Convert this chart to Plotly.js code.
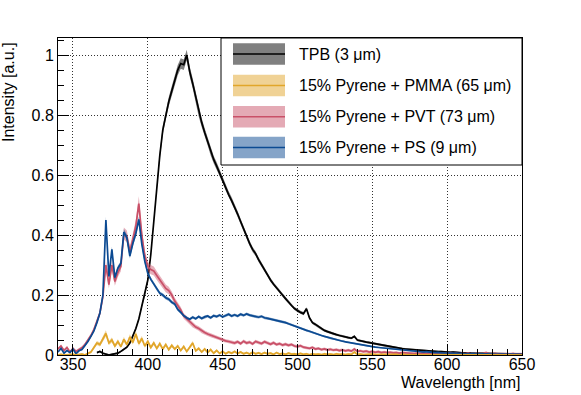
<!DOCTYPE html>
<html>
<head>
<meta charset="utf-8">
<script src="https://cdn.plot.ly/plotly-3.0.1.min.js"></script>
<style>html,body{margin:0;padding:0;background:#fff;}#chart{width:581px;height:395px;}</style>
</head>
<body>
<div id="chart"></div>
<script>
// Wavelength grid [nm], 340..650 in 2 nm steps (rows of 10 = 20 nm)
const wavelength = [
340,342,344,346,348,350,352,354,356,358,
360,362,364,366,368,370,372,374,376,378,
380,382,384,386,388,390,392,394,396,398,
400,402,404,406,408,410,412,414,416,418,
420,422,424,426,428,430,432,434,436,438,
440,442,444,446,448,450,452,454,456,458,
460,462,464,466,468,470,472,474,476,478,
480,482,484,486,488,490,492,494,496,498,
500,502,504,506,508,510,512,514,516,518,
520,522,524,526,528,530,532,534,536,538,
540,542,544,546,548,550,552,554,556,558,
560,562,564,566,568,570,572,574,576,578,
580,582,584,586,588,590,592,594,596,598,
600,602,604,606,608,610,612,614,616,618,
620,622,624,626,628,630,632,634,636,638,
640,642,644,646,648,650];

const tpb = [
null,null,null,null,null,null,null,null,null,null,
null,null,null,0.008,0.012,0.006,0.003,0.000,0.002,0.005,
0.006,0.012,0.018,0.026,0.040,0.062,0.088,0.120,0.165,0.200,
0.250,0.335,0.450,0.560,0.665,0.750,0.800,0.845,0.880,0.915,
0.950,0.972,0.968,1.000,0.945,0.905,0.860,0.810,0.775,0.742,
0.712,0.678,0.652,0.630,0.605,0.585,0.560,0.535,0.515,0.495,
0.470,0.445,0.420,0.395,0.372,0.352,0.338,0.318,0.300,0.284,
0.268,0.250,0.236,0.225,0.212,0.200,0.188,0.175,0.165,0.155,
0.148,0.142,0.138,0.154,0.124,0.108,0.102,0.095,0.088,0.082,
0.078,0.074,0.071,0.068,0.065,0.062,0.060,0.058,0.056,0.062,
0.050,0.047,0.045,0.043,0.041,0.039,0.037,0.035,0.033,0.031,
0.029,0.027,0.026,0.024,0.022,0.021,0.020,0.019,0.018,0.017,
0.016,0.015,0.015,0.014,0.013,0.012,0.012,0.011,0.011,0.010,
0.010,0.009,0.010,0.008,0.008,0.007,0.008,0.007,0.006,0.006,
0.006,0.005,0.006,0.005,0.005,0.004,0.005,0.004,0.004,0.004,
0.004,0.003,0.004,0.003,0.003,0.003];

const pmma = [
0.000,0.002,0.000,0.001,0.000,0.002,0.000,0.001,0.003,0.000,
0.005,0.010,0.025,0.040,0.035,0.055,0.072,0.040,0.050,0.030,
0.045,0.028,0.052,0.035,0.060,0.042,0.070,0.038,0.055,0.030,
0.045,0.025,0.040,0.022,0.038,0.020,0.035,0.018,0.032,0.020,
0.030,0.015,0.028,0.012,0.025,0.040,0.014,0.022,0.010,0.020,
0.008,0.018,0.006,0.015,0.005,0.012,0.004,0.010,0.006,0.012,
0.005,0.010,0.004,0.008,0.003,0.009,0.004,0.007,0.003,0.008,
0.004,0.006,0.002,0.008,0.003,0.005,0.002,0.006,0.003,0.004,
0.002,0.005,0.002,0.004,0.001,0.004,0.002,0.003,0.001,0.004,
0.002,0.003,0.001,0.004,0.002,0.003,0.001,0.003,0.002,0.010,
0.002,0.003,0.001,0.002,0.001,0.003,0.001,0.002,0.001,0.002,
0.001,0.002,0.001,0.002,0.000,0.002,0.001,0.001,0.000,0.002,
0.001,0.000,0.002,0.001,0.000,0.001,0.002,0.000,0.001,0.000,
0.001,0.000,0.002,0.000,0.001,0.000,0.001,0.002,0.000,0.001,
0.000,0.001,0.000,0.002,0.000,0.001,0.000,0.001,0.000,0.001,
0.000,0.001,0.000,0.001,0.000,0.000];

const pvt = [
0.020,0.030,0.015,0.025,0.010,0.022,0.012,0.018,0.024,0.035,
0.050,0.065,0.085,0.110,0.140,0.195,0.300,0.235,0.300,0.245,
0.275,0.295,0.405,0.395,0.345,0.385,0.430,0.505,0.400,0.330,
0.295,0.285,0.280,0.265,0.250,0.235,0.222,0.215,0.200,0.180,
0.165,0.150,0.130,0.120,0.110,0.100,0.093,0.088,0.080,0.075,
0.070,0.066,0.062,0.058,0.055,0.050,0.047,0.045,0.042,0.040,
0.044,0.038,0.046,0.040,0.043,0.037,0.045,0.041,0.038,0.044,
0.039,0.036,0.041,0.035,0.038,0.033,0.036,0.032,0.035,0.030,
0.028,0.031,0.026,0.024,0.022,0.025,0.020,0.022,0.018,0.020,
0.017,0.019,0.016,0.018,0.015,0.017,0.014,0.016,0.013,0.020,
0.012,0.014,0.011,0.013,0.010,0.012,0.009,0.011,0.008,0.010,
0.008,0.009,0.007,0.008,0.006,0.008,0.007,0.006,0.007,0.005,
0.006,0.005,0.007,0.005,0.006,0.004,0.005,0.006,0.004,0.005,
0.004,0.006,0.004,0.005,0.003,0.005,0.004,0.006,0.003,0.004,
0.005,0.003,0.004,0.008,0.003,0.004,0.005,0.003,0.004,0.003,
0.004,0.003,0.005,0.003,0.004,0.003];

const ps = [
0.010,0.022,0.006,0.015,0.008,0.020,0.004,0.014,0.018,0.030,
0.045,0.062,0.080,0.108,0.140,0.200,0.450,0.262,0.352,0.258,
0.290,0.305,0.410,0.392,0.330,0.372,0.405,0.452,0.370,0.312,
0.272,0.252,0.238,0.221,0.206,0.200,0.191,0.186,0.176,0.170,
0.152,0.142,0.131,0.124,0.119,0.126,0.121,0.128,0.122,0.127,
0.130,0.124,0.131,0.128,0.133,0.127,0.131,0.136,0.130,0.134,
0.130,0.136,0.132,0.137,0.133,0.130,0.128,0.126,0.129,0.124,
0.122,0.120,0.118,0.115,0.113,0.110,0.108,0.104,0.100,0.097,
0.093,0.090,0.086,0.082,0.079,0.075,0.072,0.068,0.065,0.062,
0.059,0.056,0.053,0.050,0.048,0.046,0.044,0.042,0.040,0.038,
0.036,0.034,0.033,0.031,0.029,0.028,0.026,0.025,0.024,0.022,
0.021,0.020,0.019,0.018,0.017,0.016,0.015,0.014,0.013,0.012,
0.012,0.011,0.010,0.011,0.009,0.009,0.008,0.009,0.007,0.007,
0.006,0.007,0.006,0.005,0.006,0.005,0.004,0.005,0.004,0.005,
0.004,0.003,0.004,0.004,0.003,0.004,0.003,0.002,0.003,0.003,
0.003,0.002,0.003,0.002,0.003,0.002];

const seriesLabels = ["TPB (3 \u03bcm)", "15% Pyrene + PMMA (65 \u03bcm)", "15% Pyrene + PVT (73 \u03bcm)", "15% Pyrene + PS (9 \u03bcm)"];
// relative and absolute uncertainty of each spectrum (band half-width)
const relErr = [0.015, 0.10, 0.04, 0.02];
const absErr = [0.003, 0.003, 0.004, 0.002];

const xTickVals = [350, 400, 450, 500, 550, 600, 650];
const yTickVals = [0, 0.2, 0.4, 0.6, 0.8, 1];

// styling
const lineColors = ["#000000", "#e1a62a", "#c95068", "#0b4a92"];
const bandColors = ["rgba(0,0,0,0.5)", "rgba(225,166,42,0.5)", "rgba(201,80,104,0.45)", "rgba(11,74,146,0.5)"];
const swatchColors = ["#808080", "#f0d295", "#e4aab5", "#85a4c8"];
const allSeries = [tpb, pmma, pvt, ps];
const drawOrder = [0, 2, 3, 1];

const W = 581, H = 395;
const M = {l: 58, r: 59, t: 38, b: 40};
const plotW = W - M.l - M.r, plotH = H - M.t - M.b;
const px2x = p => (p - M.l) / plotW;
const py2y = p => (H - M.b - p) / plotH;
const FONT = "Liberation Sans, Arial, Helvetica, sans-serif";

const traces = [];
drawOrder.forEach(k => {
  const vals = allSeries[k];
  const xs = [], ys = [];
  wavelength.forEach((w, i) => { if (vals[i] !== null) { xs.push(w); ys.push(vals[i]); } });
  const up = ys.map(v => v + relErr[k] * v + absErr[k]);
  const lo = ys.map(v => v - relErr[k] * v - absErr[k]);
  traces.push({
    x: xs.concat(xs.slice().reverse()),
    y: up.concat(lo.slice().reverse()),
    type: "scatter", mode: "lines", fill: "toself",
    fillcolor: bandColors[k], line: {width: 0, color: bandColors[k]},
    hoverinfo: "skip", showlegend: false
  });
  traces.push({
    x: xs, y: ys, type: "scatter", mode: "lines",
    line: {color: lineColors[k], width: 1.7},
    name: seriesLabels[k], showlegend: false
  });
});

// hand-drawn legend box (ROOT style)
const shapes = [{
  type: "rect", xref: "paper", yref: "paper",
  x0: px2x(221), x1: 1, y0: py2y(165), y1: 1,
  fillcolor: "#ffffff", line: {color: "#000", width: 1}, layer: "above"
}];
const annotations = [];
const rowCenters = [54, 85.5, 116.7, 147.5];
seriesLabels.forEach((lab, k) => {
  const c = rowCenters[k];
  shapes.push({
    type: "rect", xref: "paper", yref: "paper",
    x0: px2x(233), x1: px2x(285), y0: py2y(c + 10.8), y1: py2y(c - 10.8),
    fillcolor: swatchColors[k], line: {width: 0}, layer: "above"
  });
  shapes.push({
    type: "line", xref: "paper", yref: "paper",
    x0: px2x(233), x1: px2x(285), y0: py2y(c), y1: py2y(c),
    line: {color: lineColors[k], width: 1.6}, layer: "above"
  });
  annotations.push({
    xref: "paper", yref: "paper", x: px2x(297), y: py2y(c),
    xanchor: "left", yanchor: "middle", showarrow: false, text: lab,
    font: {family: FONT, size: 16, color: "#000"}
  });
});
annotations.push({
  xref: "paper", yref: "paper", x: 1, y: py2y(383),
  xanchor: "right", yanchor: "middle", showarrow: false, text: "Wavelength [nm]",
  font: {family: FONT, size: 16, color: "#000"}
});
annotations.push({
  xref: "paper", yref: "paper", x: px2x(9), y: py2y(40),
  xanchor: "center", yanchor: "top", showarrow: false, textangle: -90,
  text: "Intensity [a.u.]",
  font: {family: FONT, size: 16, color: "#000"}
});

const gridStyle = {showgrid: true, gridcolor: "rgba(0,0,0,0.8)", griddash: "1px,2px", gridwidth: 1};

const layout = {
  width: W, height: H,
  margin: M,
  paper_bgcolor: "#fff", plot_bgcolor: "#fff",
  font: {family: FONT, size: 16, color: "#000"},
  showlegend: false,
  xaxis: Object.assign({
    range: [340, 650], tickmode: "array", tickvals: xTickVals,
    ticks: "inside", ticklen: 11, tickwidth: 1, tickcolor: "#000",
    ticklabelstandoff: -5,
    showline: true, mirror: true, linecolor: "#000", linewidth: 1,
    zeroline: false, tickfont: {size: 16},
    minor: {dtick: 10, tick0: 350, ticks: "inside", ticklen: 6, tickcolor: "#000", showgrid: false}
  }, gridStyle),
  yaxis: Object.assign({
    range: [0, 1.057], tickmode: "array", tickvals: yTickVals,
    ticks: "inside", ticklen: 11, tickwidth: 1, tickcolor: "#000",
    showline: true, mirror: true, linecolor: "#000", linewidth: 1,
    zeroline: false, tickfont: {size: 16},
    minor: {dtick: 0.05, tick0: 0, ticks: "inside", ticklen: 6, tickcolor: "#000", showgrid: false}
  }, gridStyle),
  shapes: shapes,
  annotations: annotations
};

Plotly.newPlot("chart", traces, layout, {staticPlot: true, displayModeBar: false});
</script>
</body>
</html>
